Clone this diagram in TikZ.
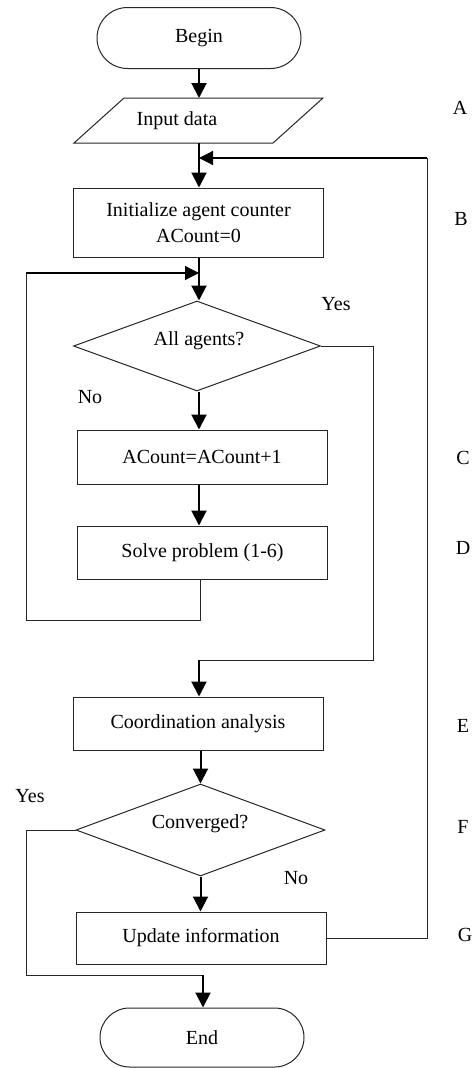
\documentclass[tikz,border=0pt]{standalone}
\usepackage{fontspec}
\setmainfont{Liberation Serif}
\usetikzlibrary{arrows.meta,shapes.geometric,shapes.misc}
\begin{document}
\begin{tikzpicture}[x=1pt,y=-1pt,
  every node/.style={font=\fontsize{20}{26}\selectfont, text=black},
  lnk/.style={line width=1pt, draw=black!85},
  arr/.style={line width=2pt, draw=black, -{Triangle[length=15pt,width=15pt]}},
  tarr/.style={line width=1.2pt, draw=black, -{Triangle[length=14pt,width=14pt]}},
  term/.style={rounded rectangle, draw=black!85, line width=1pt, minimum width=204pt, minimum height=61pt, inner sep=0pt},
  proc/.style={rectangle, draw=black!85, line width=1pt, minimum width=250pt, inner sep=0pt, align=center},
  dec/.style={diamond, draw=black!85, line width=1pt, inner sep=0pt},
  lbl/.style={inner sep=0pt, anchor=center}
]
\useasboundingbox (0,0) rectangle (474,1068);

% nodes
\node[term] (begin) at (199,38) {Begin};
\draw[lnk] (124,98) -- (323,98) -- (273,143) -- (74,143) -- cycle;
\node[lbl] (input) at (177,121) {Input data};
\coordinate (inTop) at (199,98);
\coordinate (inBot) at (199,143);
\node[proc, minimum height=69pt] (init) at (198.5,222.5) {Initialize agent counter\\ACount=0};
\node[dec, minimum width=247pt, minimum height=90pt] (d1) at (197,346) {};
\node[lbl] (d1t) at (199,341) {All agents?};
\node[proc, minimum height=54pt] (acount) at (202,457) {ACount=ACount+1};
\node[proc, minimum height=53pt] (solve) at (202.5,552.5) {Solve problem (1-6)};
\node[proc, minimum height=53pt] (coord) at (198,723.5) {Coordination analysis};
\node[dec, minimum width=249pt, minimum height=92pt] (d2) at (200.5,830) {};
\node[lbl] (d2t) at (200,824) {Converged?};
\node[proc, minimum height=52pt] (update) at (201,938) {Update information};
\node[term, minimum height=59pt] (end) at (202,1037.5) {End};

% branch labels
\node[lbl] (yes1) at (336,304) {Yes};
\node[lbl] (no1) at (90,397) {No};
\node[lbl] (yes2) at (30,796) {Yes};
\node[lbl] (no2) at (296,878) {No};

% side letters
\node[lbl] (lA) at (460,108) {A};
\node[lbl] (lB) at (461,219) {B};
\node[lbl] (lC) at (463,458) {C};
\node[lbl] (lD) at (463,548) {D};
\node[lbl] (lE) at (463,726) {E};
\node[lbl] (lF) at (463,827) {F};
\node[lbl] (lG) at (465,935) {G};

% helper coordinates
\coordinate (fbR) at (427,158);
\coordinate (fbJ) at (199,158);
\coordinate (lpB) at (200,620);
\coordinate (lpBL) at (26,620);
\coordinate (lpTL) at (26,273);
\coordinate (lpJ) at (199,273);
\coordinate (y1R) at (373,660);
\coordinate (y1L) at (199,660);
\coordinate (y2B) at (26,975);
\coordinate (y2J) at (203,975);

% connectors
\draw[arr] (begin.south) -- (inTop);
\draw[arr] (inBot) -- (inBot |- init.north);
\draw[lnk] (update.east) -| (fbR);
\draw[tarr] (fbR) -- (fbJ);
\draw[arr] (init.south -| inBot) -- (d1.north -| inBot);
\draw[lnk] (lpB |- solve.south) -- (lpB) -- (lpBL) -- (lpTL);
\draw[tarr] (lpTL) -- (lpJ);
\draw[arr] (d1.south -| inBot) -- (acount.north -| inBot);
\draw[arr] (acount.south -| inBot) -- (solve.north -| inBot);
\draw[lnk] (d1.east) -| (y1R) -- (y1L);
\draw[arr] (y1L) -- (y1L |- coord.north);
\draw[arr] (coord.south -| d2.north) -- (d2.north);
\draw[arr] (d2.south) -- (d2.south |- update.north);
\draw[lnk] (d2.west) -| (y2B) -- (y2J);
\draw[arr] (y2J) -- (y2J |- end.north);
\end{tikzpicture}
\end{document}
